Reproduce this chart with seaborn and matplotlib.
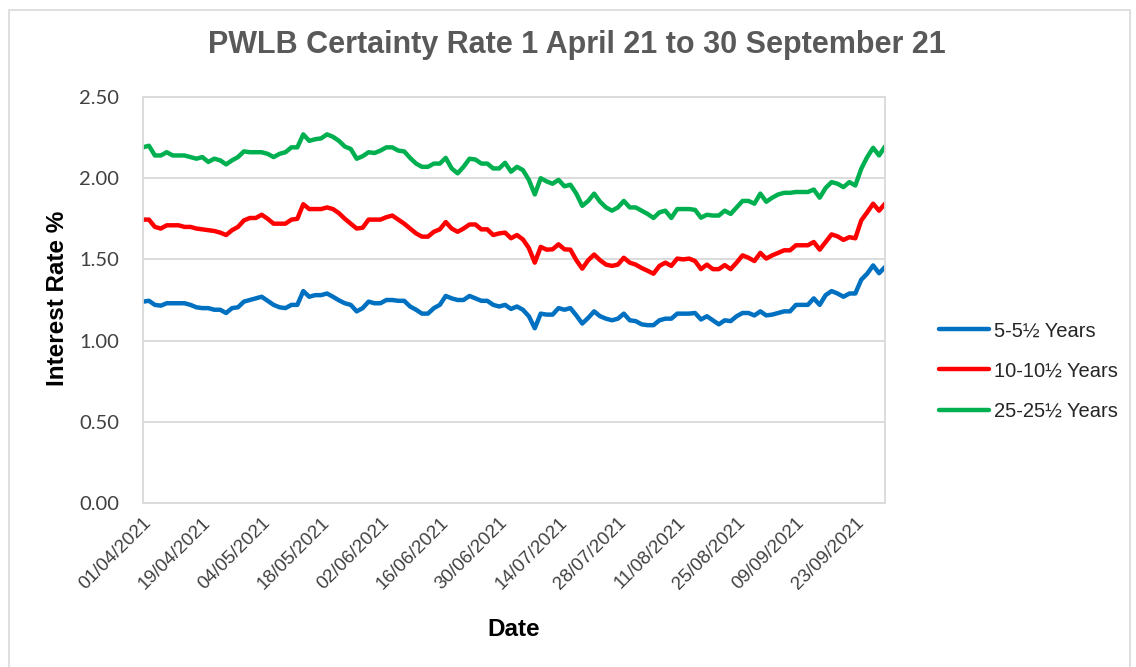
import numpy as np
import pandas as pd
import matplotlib
matplotlib.use("Agg")
import matplotlib.pyplot as plt
from matplotlib.patches import Rectangle
import seaborn as sns

# ---------------- data ----------------
holidays = ["2021-04-02", "2021-04-05", "2021-05-03", "2021-05-31", "2021-08-30"]
dates = pd.bdate_range("2021-04-01", "2021-09-30", freq="C", holidays=holidays)
date_labels = [d.strftime("%d/%m/%Y") for d in dates]

series_names = ["5-5½ Years", "10-10½ Years", "25-25½ Years"]
series_colors = ["#0070C0", "#FF0000", "#00B050"]

rate_5y = [
    1.24, 1.245, 1.22, 1.215, 1.23, 1.23, 1.23, 1.23, 1.22, 1.205,
    1.20, 1.20, 1.19, 1.19, 1.17, 1.20, 1.205, 1.24, 1.25, 1.26,
    1.27, 1.245, 1.22, 1.205, 1.20, 1.22, 1.22, 1.305, 1.27, 1.28,
    1.28, 1.29,
    1.27, 1.248, 1.23, 1.22, 1.18, 1.20, 1.24, 1.23, 1.23, 1.25,
    1.25, 1.245, 1.245, 1.21, 1.19, 1.166, 1.166, 1.20, 1.22, 1.275,
    1.26, 1.25, 1.25, 1.275, 1.26, 1.245, 1.245, 1.22, 1.21, 1.22,
    1.195,
    1.21, 1.19, 1.15, 1.076, 1.166, 1.16, 1.16, 1.20, 1.19, 1.20,
    1.155, 1.105, 1.14, 1.18, 1.15, 1.135, 1.125, 1.135, 1.166, 1.125,
    1.12, 1.10, 1.095, 1.095, 1.125, 1.135, 1.135, 1.166, 1.166, 1.166,
    1.17,
    1.13, 1.15, 1.125, 1.10, 1.125, 1.12, 1.15, 1.17, 1.17, 1.155,
    1.18, 1.155, 1.16, 1.17, 1.18, 1.18, 1.22, 1.22, 1.22, 1.26,
    1.22, 1.28, 1.305, 1.29, 1.27, 1.29, 1.29, 1.375, 1.412, 1.463,
    1.415, 1.453,
]

rate_10y = [
    1.745, 1.745, 1.70, 1.69, 1.71, 1.71, 1.71, 1.70, 1.70, 1.69,
    1.685, 1.68, 1.675, 1.665, 1.65, 1.68, 1.70, 1.74, 1.755, 1.755,
    1.775, 1.75, 1.72, 1.72, 1.72, 1.745, 1.75, 1.84, 1.81, 1.81,
    1.81, 1.82,
    1.81, 1.785, 1.75, 1.72, 1.69, 1.695, 1.745, 1.745, 1.745, 1.76,
    1.77, 1.745, 1.72, 1.69, 1.66, 1.64, 1.64, 1.67, 1.685, 1.73,
    1.69, 1.67, 1.69, 1.715, 1.715, 1.685, 1.685, 1.65, 1.66, 1.665,
    1.63,
    1.65, 1.623, 1.57, 1.48, 1.577, 1.56, 1.562, 1.593, 1.562, 1.56,
    1.495, 1.443, 1.495, 1.53, 1.495, 1.468, 1.46, 1.468, 1.51, 1.48,
    1.468, 1.447, 1.43, 1.412, 1.46, 1.48, 1.46, 1.505, 1.50, 1.505,
    1.49,
    1.44, 1.468, 1.44, 1.44, 1.465, 1.44, 1.48, 1.525, 1.51, 1.49,
    1.54, 1.505, 1.525, 1.54, 1.556, 1.556, 1.587, 1.587, 1.587, 1.607,
    1.56, 1.607, 1.654, 1.642, 1.62, 1.637, 1.63, 1.74, 1.79, 1.843,
    1.80, 1.843,
]

rate_25y = [
    2.19, 2.20, 2.14, 2.14, 2.16, 2.14, 2.14, 2.14, 2.13, 2.12,
    2.13, 2.10, 2.12, 2.11, 2.085, 2.11, 2.13, 2.165, 2.16, 2.16,
    2.16, 2.15, 2.13, 2.15, 2.16, 2.19, 2.19, 2.27, 2.23, 2.24,
    2.245, 2.27,
    2.255, 2.23, 2.195, 2.18, 2.12, 2.135, 2.16, 2.155, 2.17, 2.19,
    2.19, 2.17, 2.165, 2.125, 2.09, 2.07, 2.07, 2.09, 2.09, 2.125,
    2.06, 2.03, 2.07, 2.12, 2.115, 2.09, 2.09, 2.06, 2.06, 2.095,
    2.04,
    2.07, 2.05, 1.99, 1.90, 2.00, 1.98, 1.966, 1.99, 1.95, 1.96,
    1.905, 1.83, 1.86, 1.905, 1.855, 1.82, 1.80, 1.82, 1.86, 1.82,
    1.82, 1.80, 1.78, 1.755, 1.79, 1.80, 1.755, 1.81, 1.81, 1.81,
    1.805,
    1.757, 1.775, 1.77, 1.77, 1.80, 1.78, 1.82, 1.86, 1.86, 1.843,
    1.905, 1.855, 1.88, 1.90, 1.91, 1.91, 1.915, 1.915, 1.915, 1.93,
    1.88, 1.94, 1.976, 1.966, 1.945, 1.976, 1.955, 2.058, 2.13, 2.187,
    2.14, 2.195,
]

y_ticks = [0.0, 0.5, 1.0, 1.5, 2.0, 2.5]

n = min(len(dates), len(rate_5y), len(rate_10y), len(rate_25y))
df = pd.DataFrame({
    "idx": np.arange(n),
    series_names[0]: rate_5y[:n],
    series_names[1]: rate_10y[:n],
    series_names[2]: rate_25y[:n],
})
long = df.melt(id_vars="idx", var_name="Series", value_name="Rate")

# ---------------- style ----------------
sns.set_style("white")
plt.rcParams["font.family"] = ["Liberation Sans", "DejaVu Sans"]

W, H = 1136, 667
fig = plt.figure(figsize=(W / 100, H / 100), dpi=100)
L, R, T, B = 143, 885, 97, 503
ax = fig.add_axes([L / W, 1 - B / H, (R - L) / W, (B - T) / H])

# outer chart border
fig.patches.append(Rectangle((9 / W, -2 / H), (1130 - 9) / W, (H - 10 + 2) / H,
                             transform=fig.transFigure, fill=False,
                             edgecolor="#D9D9D9", linewidth=1.2))

sns.lineplot(data=long, x="idx", y="Rate", hue="Series",
             hue_order=series_names, palette=series_colors,
             linewidth=3.2, ax=ax, legend=True)

ax.set_xlim(0, n - 1)
ax.set_ylim(0, 2.5)
ax.set_yticks(y_ticks)
ax.set_yticklabels([f"{v:.2f}" for v in y_ticks], fontfamily="Lato",
                   fontsize=14.5, color="#404040")
ax.yaxis.grid(True, color="#D9D9D9", linewidth=1.3)
ax.xaxis.grid(False)
ax.set_axisbelow(True)

xt = list(range(0, n, 10))
ax.set_xticks(xt)
ax.set_xticklabels([date_labels[i] for i in xt], rotation=45, ha="right",
                   rotation_mode="anchor", fontsize=13.5, color="#404040")
ax.tick_params(axis="both", length=0)
ax.tick_params(axis="y", pad=17)
ax.tick_params(axis="x", pad=8)

for s in ax.spines.values():
    s.set_color("#D9D9D9")
    s.set_linewidth(1.3)

ax.set_xlabel("Date", fontsize=17.5, fontweight="bold", color="black", va="center")
ax.xaxis.set_label_coords(0.5, -(629 - B) / (B - T))
ax.set_ylabel("Interest Rate %", fontsize=17.5, fontweight="bold", color="black", va="center")
ax.yaxis.set_label_coords(-(143 - 58) / (R - L), 0.5 + 2 / (B - T))

fig.text(577 / W, 1 - 45.5 / H, "PWLB Certainty Rate 1 April 21 to 30 September 21",
         ha="center", va="center", fontsize=22, fontweight="bold", color="#595959")

leg = ax.legend(loc="center left", bbox_to_anchor=(939 / W, 1 - 371 / H),
                bbox_transform=fig.transFigure, frameon=False, fontsize=14.5,
                handlelength=2.5, handletextpad=0.25, labelspacing=1.05,
                borderpad=0, borderaxespad=0)
for t in leg.get_texts():
    t.set_color("#262626")
for h in leg.get_lines():
    h.set_linewidth(3.2)

fig.savefig("out.png", dpi=100)
